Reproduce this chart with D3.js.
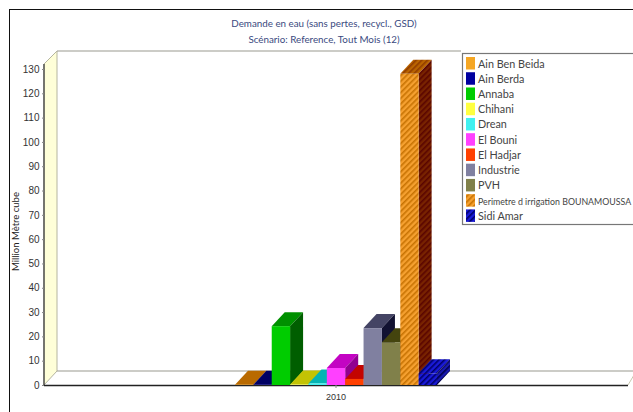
<!DOCTYPE html>
<html><head><meta charset="utf-8">
<script src="https://cdn.jsdelivr.net/npm/d3@7"></script>
<style>html,body{margin:0;background:#fff}svg{display:block;font-family:"Liberation Sans",Arial,sans-serif}</style>
</head><body><div id="c"></div>
<script>
const titleLines=["Demande en eau (sans pertes, recycl., GSD)","Scénario: Reference,  Tout Mois (12)"];
const yLabel="Million Mètre cube";
const years=["2010"];
const seriesNames=["Ain Ben Beida","Ain Berda","Annaba","Chihani","Drean","El Bouni","El Hadjar","Industrie","PVH","Perimetre d irrigation BOUNAMOUSSA","Sidi Amar"];
const seriesValues=[0.1,0.1,24.2,0.2,0.6,7,2.5,23.4,17.6,128,4.8];
const seriesColors=["#f5a623","#0000a0","#00cc00","#ffff40","#40f0f0","#ff40ff","#ff4000","#8080a0","#80804a","#f5a030","#1a1ad8"];
const hatched=[false,false,false,false,false,false,false,false,false,true,true];
const yTicks=d3.range(0,131,10);

const W=633,H=412;
const svg=d3.select("#c").append("svg").attr("width",W).attr("height",H);
const defs=svg.append("defs");
function hatch(id,base,line){
  const p=defs.append("pattern").attr("id",id).attr("width",4).attr("height",4)
    .attr("patternUnits","userSpaceOnUse").attr("patternTransform","rotate(45)");
  p.append("rect").attr("width",4).attr("height",4).attr("fill",base);
  p.append("rect").attr("width",1.6).attr("height",4).attr("fill",line);
}
function shade(col,k){
  const c=d3.rgb(col);
  return d3.rgb(Math.max(c.r-k,0),Math.max(c.g-k,0),Math.max(c.b-k,0)).formatHex();
}
svg.append("rect").attr("x",9.5).attr("y",9.5).attr("width",W).attr("height",H).attr("fill","#fff").attr("stroke","#111").attr("stroke-width",1);

const x0=44,x1=628,yB=385,yT=69,dx=13,dy=14;
const wallFront=64,wallBack=51,legendLeft=461;
const y=d3.scaleLinear().domain([0,130]).range([yB,yT]);
const xGroup=d3.scaleBand().domain(years).range([x0,x1]);
const cx=xGroup(years[0])+xGroup.bandwidth()/2;
const xCat=d3.scaleBand().domain(seriesNames).range([cx-101,cx+101]);

const g=svg.append("g");
// left wall
g.append("path").attr("d",`M${x0},${yB}L${x0},${wallFront}L${x0+dx},${wallBack}L${x0+dx},${yB-dy}Z`).attr("fill","#ffffd8").attr("stroke","#b5b5a0").attr("stroke-width",1);
// back wall edges
g.append("path").attr("d",`M${x0+dx},${wallBack}H${legendLeft}`).attr("stroke","#9a9a90").attr("fill","none").attr("stroke-width",1.2);
g.append("path").attr("d",`M${x0+dx},${yB-dy}H${W}`).attr("stroke","#9a9a90").attr("fill","none").attr("stroke-width",1.2);
// floor
g.append("path").attr("d",`M${x1},${yB}L${W+1},${yB-10}`).attr("stroke","#c8c8b0").attr("fill","none");
g.append("line").attr("x1",x0).attr("x2",x1).attr("y1",yB+.5).attr("y2",yB+.5).attr("stroke","#222").attr("stroke-width",1.4);
g.append("line").attr("x1",x0).attr("x2",x0).attr("y1",wallFront).attr("y2",yB).attr("stroke","#333").attr("stroke-width",1.2);

// y axis
const axis=d3.axisLeft(y).tickValues(yTicks).tickSize(2).tickPadding(2.5);
const ax=g.append("g").attr("transform",`translate(${x0},0)`).call(axis);
ax.select(".domain").remove();
ax.selectAll("text").attr("font-size",10).attr("fill","#333");
ax.selectAll("line").attr("stroke","#888");

// bars, drawn from left to right so later bars overlap earlier depth faces
seriesNames.forEach((n,i)=>{
  const v=seriesValues[i],bx=xCat(n),bw=xCat.bandwidth(),ty=y(v),c=seriesColors[i];
  let fF=c,fT=shade(c,60),fS=shade(c,110);
  if(hatched[i]){
    const dark=i===10?"#00006a":shade(c,45);
    hatch("hf"+i,c,dark);
    hatch("ht"+i,shade(c,60),shade(c,100));
    hatch("hs"+i,i===10?"#1a1ab0":shade(c,125),i===10?"#00004a":shade(c,155));
    fF=`url(#hf${i})`;fT=i===10?fF:`url(#ht${i})`;fS=`url(#hs${i})`;
  }
  const b=g.append("g");
  b.append("path").attr("d",`M${bx},${ty}L${bx+dx},${ty-dy}H${bx+bw+dx}L${bx+bw},${ty}Z`).attr("fill",fT);
  b.append("path").attr("d",`M${bx+bw},${ty}L${bx+bw+dx},${ty-dy}V${yB-dy}L${bx+bw},${yB}Z`).attr("fill",fS);
  b.append("rect").attr("x",bx).attr("y",ty).attr("width",bw).attr("height",Math.max(yB-ty,0)).attr("fill",fF);
});

// x label
g.append("line").attr("x1",cx).attr("x2",cx).attr("y1",yB).attr("y2",yB+3).attr("stroke","#888");
g.append("text").attr("x",cx).attr("y",400).attr("text-anchor","middle").attr("font-size",9).attr("fill","#333").text(years[0]);

// titles
titleLines.forEach((t,i)=>svg.append("text").attr("x",324).attr("y",27+i*16).attr("text-anchor","middle").attr("font-family","Lato").attr("font-size",9.8).attr("fill","#3a4a80").text(t));
// y title
svg.append("text").attr("transform","translate(19,231.5) rotate(-90)").attr("text-anchor","middle").attr("font-family","Lato").attr("font-size",9.5).attr("fill","#222").text(yLabel);

// legend
const lx=462.5,ly=53.5,rowH=15.24;
svg.append("rect").attr("x",lx).attr("y",ly).attr("width",W).attr("height",171).attr("fill","#fff").attr("stroke","#777").attr("stroke-width",1.2);
const lg=svg.append("g");
seriesNames.forEach((n,i)=>{
  const yy=ly+3.5+i*rowH;
  lg.append("rect").attr("x",lx+3.5).attr("y",yy).attr("width",9).attr("height",12.5).attr("fill",hatched[i]?`url(#hf${i})`:seriesColors[i]);
  lg.append("text").attr("x",lx+15.5).attr("y",yy+10.5).attr("font-family","Lato").attr("font-size",n.length>20?8.8:10.8).attr("fill","#444").text(n);
});
</script></body></html>
